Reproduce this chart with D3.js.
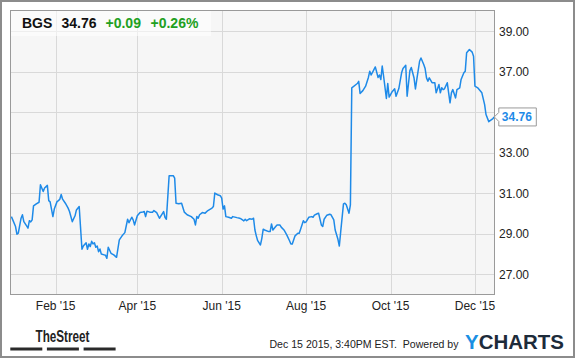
<!DOCTYPE html>
<html>
<head>
<meta charset="utf-8">
<script src="https://cdn.jsdelivr.net/npm/d3@7"></script>
<style>
  body { margin: 0; background: #fff; }
  text { font-family: Arial, "Liberation Sans", sans-serif; }
</style>
</head>
<body>
<div id="chart"></div>
<script>
const dates = [
  "2014-12-31","2015-01-01","2015-01-03","2015-01-04","2015-01-05","2015-01-07","2015-01-08","2015-01-09",
  "2015-01-11","2015-01-12","2015-01-13","2015-01-14","2015-01-15","2015-01-16","2015-01-18","2015-01-20",
  "2015-01-21","2015-01-23","2015-01-24","2015-01-26","2015-01-27","2015-01-28","2015-01-30","2015-01-31",
  "2015-02-02","2015-02-03","2015-02-04","2015-02-05","2015-02-06","2015-02-08","2015-02-10","2015-02-11",
  "2015-02-13","2015-02-15","2015-02-16","2015-02-18","2015-02-20","2015-02-21","2015-02-23","2015-02-24",
  "2015-02-25","2015-02-26","2015-02-27","2015-02-28","2015-03-01","2015-03-02","2015-03-03","2015-03-04",
  "2015-03-05","2015-03-06","2015-03-08","2015-03-09","2015-03-10","2015-03-11","2015-03-13","2015-03-15",
  "2015-03-17","2015-03-19","2015-03-21","2015-03-23","2015-03-25","2015-03-26","2015-03-28","2015-03-29",
  "2015-03-30","2015-04-01","2015-04-03","2015-04-05","2015-04-06","2015-04-07","2015-04-08","2015-04-10",
  "2015-04-12","2015-04-13","2015-04-15","2015-04-17","2015-04-19","2015-04-20","2015-04-21","2015-04-22",
  "2015-04-24","2015-04-27","2015-04-28","2015-04-29","2015-05-01","2015-05-03","2015-05-05","2015-05-07",
  "2015-05-10","2015-05-12","2015-05-13","2015-05-14","2015-05-15","2015-05-16","2015-05-18","2015-05-20",
  "2015-05-22","2015-05-25","2015-05-26","2015-05-27","2015-05-29","2015-05-31","2015-06-01","2015-06-02",
  "2015-06-03","2015-06-04","2015-06-06","2015-06-08","2015-06-09","2015-06-12","2015-06-14","2015-06-15",
  "2015-06-17","2015-06-18","2015-06-19","2015-06-21","2015-06-23","2015-06-24","2015-06-25","2015-06-26",
  "2015-06-27","2015-06-29","2015-06-30","2015-07-01","2015-07-02","2015-07-05","2015-07-06","2015-07-07",
  "2015-07-08","2015-07-10","2015-07-11","2015-07-13","2015-07-14","2015-07-16","2015-07-18","2015-07-20",
  "2015-07-21","2015-07-22","2015-07-24","2015-07-26","2015-07-27","2015-07-28","2015-07-30","2015-07-31",
  "2015-08-01","2015-08-03","2015-08-05","2015-08-06","2015-08-07","2015-08-09","2015-08-10","2015-08-12",
  "2015-08-13","2015-08-14","2015-08-16","2015-08-18","2015-08-19","2015-08-21","2015-08-22","2015-08-24",
  "2015-08-25","2015-08-26","2015-08-28","2015-08-29","2015-08-30","2015-09-01","2015-09-02","2015-09-03",
  "2015-09-07","2015-09-08","2015-09-09","2015-09-11","2015-09-13","2015-09-15","2015-09-16","2015-09-17",
  "2015-09-19","2015-09-20","2015-09-22","2015-09-23","2015-09-24","2015-09-25","2015-09-26","2015-09-28",
  "2015-09-29","2015-09-30","2015-10-02","2015-10-04","2015-10-05","2015-10-07","2015-10-09","2015-10-10",
  "2015-10-12","2015-10-13","2015-10-15","2015-10-16","2015-10-18","2015-10-19","2015-10-20","2015-10-22",
  "2015-10-23","2015-10-25","2015-10-26","2015-10-27","2015-10-28","2015-10-29","2015-10-31","2015-11-02",
  "2015-11-03","2015-11-05","2015-11-06","2015-11-07","2015-11-08","2015-11-09","2015-11-11","2015-11-12",
  "2015-11-13","2015-11-14","2015-11-15","2015-11-17","2015-11-18","2015-11-20","2015-11-21","2015-11-23",
  "2015-11-24","2015-11-25","2015-11-27","2015-11-29","2015-11-30","2015-12-01","2015-12-03","2015-12-06",
  "2015-12-08","2015-12-09","2015-12-11","2015-12-14","2015-12-15"
];

const prices = [
  29.84,29.68,29.35,28.97,29.02,29.76,29.93,29.59,
  29.38,29.27,29.64,29.58,29.68,30.37,30.47,30.55,
  31.41,31.08,31.25,31.38,30.63,30.57,29.84,30.21,
  30.58,30.63,30.70,30.93,30.70,30.50,30.26,30.09,
  29.59,29.88,30.17,30.34,28.23,28.39,28.55,28.23,
  28.49,28.36,28.62,28.49,28.55,28.33,28.39,28.11,
  28.24,27.99,27.95,27.93,27.78,28.33,28.03,27.95,
  27.83,28.69,28.89,29.05,29.71,29.54,29.81,29.68,
  29.43,29.88,30.04,30.07,30.09,29.84,30.11,30.06,
  30.06,30.14,30.04,29.76,29.98,30.09,29.81,29.71,
  31.86,31.86,31.74,30.50,30.47,30.50,30.06,29.93,
  29.84,29.71,29.43,29.84,29.76,29.93,30.04,30.01,
  30.14,30.26,30.34,31.00,30.92,30.87,30.75,30.21,
  30.37,29.84,29.81,29.76,29.84,29.79,29.76,29.73,
  29.63,29.71,29.64,29.73,29.71,29.76,29.18,28.89,
  28.65,28.44,28.77,29.22,29.18,29.10,29.10,29.48,
  29.18,29.35,29.43,29.43,29.32,29.18,28.94,28.65,
  28.49,28.49,28.89,29.02,29.02,29.22,29.64,29.54,
  29.58,29.81,29.84,29.81,29.91,29.98,30.01,29.43,
  29.35,29.71,29.91,29.96,29.93,29.68,29.18,28.72,
  28.39,29.10,30.47,30.50,30.42,30.01,30.42,36.20,
  36.41,36.52,35.92,36.06,36.28,36.71,37.02,36.83,
  37.10,37.23,36.71,36.83,36.61,37.27,36.77,35.67,
  36.41,35.74,35.99,36.15,35.78,36.16,36.94,37.15,
  37.31,35.78,37.05,37.20,36.68,36.14,36.61,37.51,
  37.67,37.35,37.15,36.69,36.52,36.69,36.45,36.45,
  35.95,36.36,35.95,36.20,36.11,36.15,36.45,35.95,
  35.46,35.95,36.11,35.70,36.11,36.20,36.61,36.94,
  37.02,37.93,38.09,37.96,37.76,36.28,36.20,35.95,
  35.37,34.88,34.53,34.68,34.76
];

const yTicks = [27, 29, 31, 33, 35, 37, 39];
const xTickDates = ["2015-02-01", "2015-04-01", "2015-06-01", "2015-08-01", "2015-10-01", "2015-12-01"];
const xDomain = ["2014-12-30 00", "2015-12-15 12"];
const yDomain = [25.97, 40.04];

const ticker = "BGS";
const lastPrice = "34.76";
const change = "+0.09";
const changePct = "+0.26%";
const stamp = "Dec 15 2015, 3:40PM EST.  Powered by";

const W = 575, H = 358;
const plot = { left: 10, top: 10, right: 495, bottom: 295 };

const parseDay = d3.timeParse("%Y-%m-%d");
const parseHour = d3.timeParse("%Y-%m-%d %H");
const data = dates.map((d, i) => ({ date: parseDay(d), value: prices[i] }));

const svg = d3.select("#chart").append("svg")
  .attr("width", W)
  .attr("height", H);

const x = d3.scaleTime()
  .domain(xDomain.map(parseHour))
  .range([plot.left, plot.right]);

const y = d3.scaleLinear()
  .domain(yDomain)
  .range([plot.bottom, plot.top]);

// plot background
svg.append("rect")
  .attr("x", plot.left).attr("y", plot.top)
  .attr("width", plot.right - plot.left)
  .attr("height", plot.bottom - plot.top)
  .attr("fill", "#f6f6f6");

// grid
svg.append("g")
  .selectAll("line")
  .data(yTicks)
  .join("line")
  .attr("x1", plot.left).attr("x2", plot.right)
  .attr("y1", d => Math.round(y(d)) + 0.5)
  .attr("y2", d => Math.round(y(d)) + 0.5)
  .attr("stroke", "#d9d9d9");

svg.append("g")
  .selectAll("line")
  .data(xTickDates.map(parseDay))
  .join("line")
  .attr("x1", d => Math.round(x(d)) + 0.5)
  .attr("x2", d => Math.round(x(d)) + 0.5)
  .attr("y1", plot.top).attr("y2", plot.bottom)
  .attr("stroke", "#d9d9d9");

// price line
const line = d3.line()
  .x(d => x(d.date))
  .y(d => y(d.value));

svg.append("path")
  .datum(data)
  .attr("d", line)
  .attr("fill", "none")
  .attr("stroke", "#1e8ae8")
  .attr("stroke-width", 1.5)
  .attr("stroke-linejoin", "round");

// plot frame
svg.append("rect")
  .attr("x", plot.left + 0.5).attr("y", plot.top + 0.5)
  .attr("width", plot.right - plot.left - 1)
  .attr("height", plot.bottom - plot.top - 1)
  .attr("fill", "none")
  .attr("stroke", "#9a9a9a");

// y labels
svg.append("g")
  .selectAll("text")
  .data(yTicks)
  .join("text")
  .attr("x", plot.right + 4)
  .attr("y", d => y(d) + 4.5)
  .attr("font-size", 12)
  .attr("fill", "#222")
  .text(d3.format(".2f"));

// x labels
const fmt = d3.timeFormat("%b '%y");
svg.append("g")
  .selectAll("text")
  .data(xTickDates.map(parseDay))
  .join("text")
  .attr("x", d => x(d))
  .attr("y", plot.bottom + 14.5)
  .attr("text-anchor", "middle")
  .attr("font-size", 12)
  .attr("fill", "#222")
  .text(fmt);

// last value flag (covers the 35.00 label like the original)
const last = data[data.length - 1];
const lx = x(last.date), ly = y(last.value);
svg.append("path")
  .attr("d", `M${lx},${ly} L${lx + 4.5},${ly - 4.5} L${lx + 4.5},${ly - 9} L${lx + 42},${ly - 9} L${lx + 42},${ly + 9} L${lx + 4.5},${ly + 9} L${lx + 4.5},${ly + 4.5} Z`)
  .attr("fill", "#fff")
  .attr("stroke", "#999");
svg.append("text")
  .attr("x", lx + 7.5)
  .attr("y", ly + 4.5)
  .attr("font-size", 12)
  .attr("font-weight", "bold")
  .attr("fill", "#1e8ae8")
  .text(lastPrice);

// header
svg.append("rect")
  .attr("x", plot.left + 1).attr("y", plot.top + 1)
  .attr("width", 200).attr("height", 25)
  .attr("fill", "#fff")
  .attr("opacity", 0.55);

const header = [
  { t: ticker, x: 22, c: "#111" },
  { t: lastPrice, x: 61.5, c: "#111" },
  { t: change, x: 105.5, c: "#22a022" },
  { t: changePct, x: 150.5, c: "#22a022" }
];
svg.append("g")
  .selectAll("text")
  .data(header)
  .join("text")
  .attr("x", d => d.x)
  .attr("y", 28.3)
  .attr("font-size", 14)
  .attr("font-weight", "bold")
  .attr("fill", d => d.c)
  .text(d => d.t);

// footer: TheStreet
svg.append("text")
  .attr("x", 35.5).attr("y", 341.5)
  .attr("font-size", 16)
  .attr("font-weight", "bold")
  .attr("fill", "#222")
  .attr("textLength", 54)
  .attr("lengthAdjust", "spacingAndGlyphs")
  .text("TheStreet");

svg.append("g")
  .selectAll("rect")
  .data([10.3, 46.9, 83.6])
  .join("rect")
  .attr("x", d => d)
  .attr("y", 347.5)
  .attr("width", 32)
  .attr("height", 3)
  .attr("fill", "#2a2a2a");

svg.append("text")
  .attr("x", 269.5).attr("y", 348.3)
  .attr("font-size", 10.5)
  .attr("fill", "#222")
  .attr("textLength", 189)
  .attr("lengthAdjust", "spacingAndGlyphs")
  .attr("xml:space", "preserve")
  .text(stamp);

const logo = svg.append("text")
  .attr("x", 465).attr("y", 349)
  .attr("font-size", 20)
  .attr("font-weight", "900")
  .attr("textLength", 99)
  .attr("lengthAdjust", "spacingAndGlyphs");
logo.append("tspan").attr("fill", "#1a8fe3").text("Y");
logo.append("tspan").attr("fill", "#1d2b3a").text("CHARTS");

// outer frame
svg.append("rect")
  .attr("x", 1).attr("y", 1)
  .attr("width", W - 2).attr("height", H - 2)
  .attr("fill", "none")
  .attr("stroke", "#8c8c8c")
  .attr("stroke-width", 2);
</script>
</body>
</html>
